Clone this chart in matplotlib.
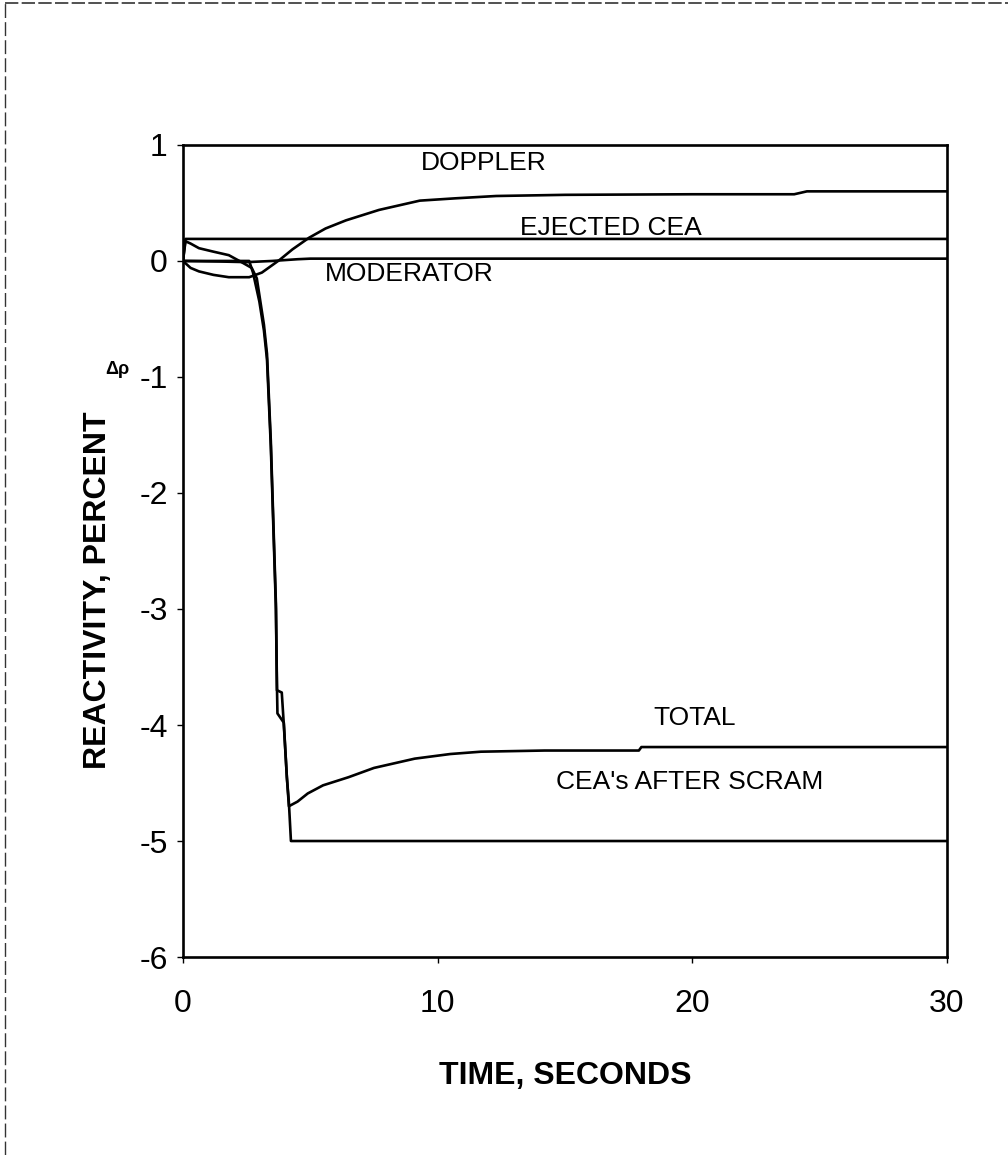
import matplotlib
matplotlib.use("Agg")
import matplotlib.pyplot as plt
from matplotlib.lines import Line2D

plt.rcParams['font.family'] = ['Liberation Sans', 'DejaVu Sans']

# Reactivity components (percent) versus time (seconds)
ejected_t = [0.0, 0.1, 30.0]
ejected_v = [0.0, 0.19, 0.19]

moderator_t = [0.0, 1.5, 2.5, 3.5, 4.5, 5.0, 30.0]
moderator_v = [0.0, -0.005, -0.01, 0.0, 0.015, 0.02, 0.02]

doppler_t = [0.0, 0.3, 0.63, 1.2, 1.8, 2.6, 3.1, 3.8, 4.3, 4.95, 5.6, 6.4,
             7.7, 9.3, 10.7, 12.3, 15.0, 20.0, 24.0, 24.5, 30.0]
doppler_v = [0.0, -0.06, -0.09, -0.12, -0.14, -0.14, -0.10, 0.01, 0.10, 0.20,
             0.28, 0.35, 0.44, 0.52, 0.54, 0.56, 0.57, 0.575, 0.575, 0.60, 0.60]

scram_t = [0.0, 2.6, 2.75, 3.0, 3.18, 3.3, 3.45, 3.55, 3.65, 3.69, 3.88,
           3.95, 4.08, 4.16, 4.24, 30.0]
scram_v = [0.0, 0.0, -0.1, -0.35, -0.6, -0.85, -1.6, -2.3, -3.0, -3.7, -3.72,
           -3.96, -4.45, -4.67, -5.0, -5.0]

total_t = [0.0, 0.1, 0.3, 0.63, 1.2, 1.8, 2.3, 2.7, 2.9, 3.18, 3.3, 3.45,
           3.55, 3.65, 3.69, 3.71, 3.96, 4.08, 4.16, 4.5, 4.9, 5.5, 6.5, 7.5,
           9.1, 10.5, 11.7, 14.2, 17.9, 18.0, 30.0]
total_v = [0.0, 0.17, 0.15, 0.11, 0.08, 0.05, -0.01, -0.06, -0.15, -0.55,
           -0.8, -1.55, -2.25, -2.95, -3.65, -3.9, -3.98, -4.45, -4.70, -4.66,
           -4.59, -4.52, -4.45, -4.37, -4.29, -4.25, -4.23, -4.22, -4.22,
           -4.19, -4.19]

x_ticks = [0, 10, 20, 30]
y_ticks = [1, 0, -1, -2, -3, -4, -5, -6]

# Curve annotations: text, time, reactivity
curve_labels = [
    ("DOPPLER", 11.8, 0.845),
    ("EJECTED CEA", 16.8, 0.28),
    ("MODERATOR", 8.9, -0.11),
    ("TOTAL", 20.1, -3.94),
    ("CEA's AFTER SCRAM", 19.9, -4.49),
]

fig = plt.figure(figsize=(10.08, 11.55), dpi=100)
ax = fig.add_axes([0.1815, 0.1714, 0.758, 0.7031])

lw = 1.9
for t, v in [(ejected_t, ejected_v), (moderator_t, moderator_v),
             (doppler_t, doppler_v), (scram_t, scram_v), (total_t, total_v)]:
    ax.plot(t, v, color='black', linewidth=lw, solid_joinstyle='round')

for text, tx, ty in curve_labels:
    ax.text(tx, ty, text, fontsize=19, ha='center', va='center', color='black')

ax.set_xlim(0, 30)
ax.set_ylim(-6, 1)
ax.set_xticks(x_ticks)
ax.set_yticks(y_ticks)
ax.set_xticklabels([str(v) for v in x_ticks], fontsize=23)
ax.set_yticklabels([str(v) for v in y_ticks], fontsize=23)
ax.tick_params(axis='x', direction='out', length=4, width=1, pad=19)
ax.tick_params(axis='y', direction='out', length=4, width=1, pad=7)
for sp in ax.spines.values():
    sp.set_linewidth(1.9)

ax.set_xlabel("TIME, SECONDS", fontsize=23, fontweight='bold', labelpad=30)
ax.set_ylabel("REACTIVITY, PERCENT", fontsize=23, fontweight='bold')
ax.yaxis.set_label_coords(-0.092, 0.452)

fig.text(117 / 1008, 1 - 370 / 1155, "Δρ", fontsize=13, fontweight='bold',
         ha='center', va='center')

# Page frame along the top and left edges
fig.add_artist(Line2D([0.005, 1.0], [0.997, 0.997], transform=fig.transFigure,
                      color='#333333', linewidth=1.2, linestyle=(0, (8, 2))))
fig.add_artist(Line2D([0.005, 0.005], [0.0, 0.997], transform=fig.transFigure,
                      color='#333333', linewidth=1.0, linestyle=(0, (10, 3))))

fig.savefig("out.png", dpi=100, facecolor='white')
